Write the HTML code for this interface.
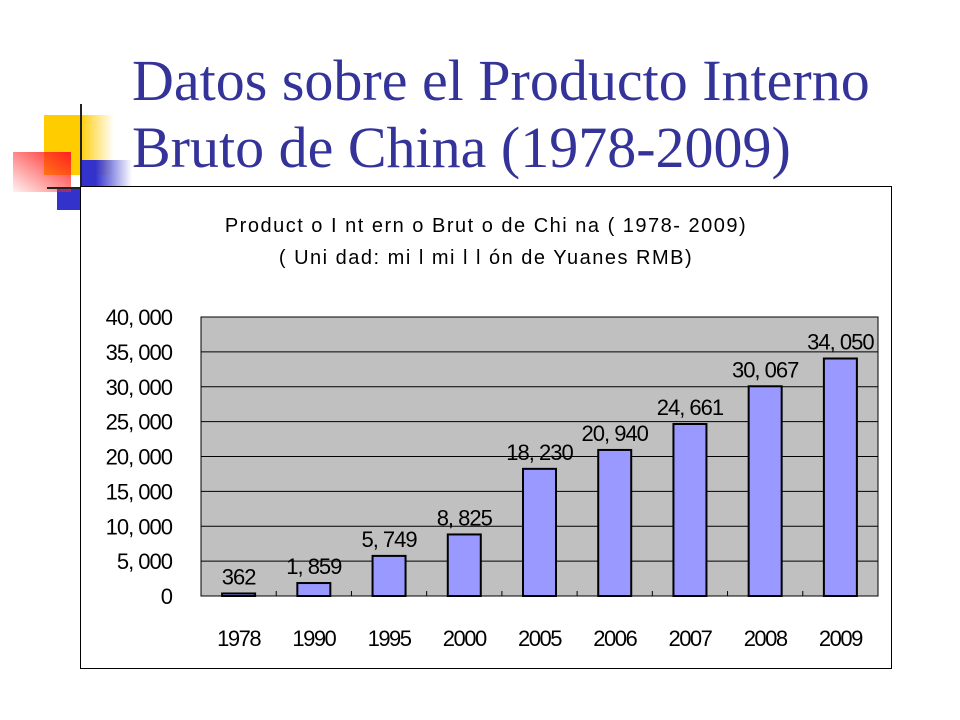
<!DOCTYPE html>
<html><head><meta charset="utf-8"><style>
body{margin:0;width:960px;height:720px;background:#fff;position:relative;overflow:hidden;font-family:"Liberation Sans",sans-serif}
.t{position:absolute;left:132px;top:47px;font-family:"Liberation Serif",serif;font-size:58px;line-height:67px;color:#333399;white-space:nowrap}
</style></head><body>
<div>
<div style="position:absolute;left:44px;top:115px;width:70px;height:60px;background:linear-gradient(to right,#ffcc00 50%,rgba(255,204,0,0))"></div>
<div style="position:absolute;left:80px;top:160px;width:52px;height:28px;background:linear-gradient(to right,#3333cc 30%,rgba(51,51,204,0))"></div>
<div style="position:absolute;left:57px;top:188px;width:24px;height:22px;background:#3333cc"></div>
<div style="position:absolute;left:13px;top:152px;width:58px;height:40px;background:linear-gradient(to bottom left,#ff2020,rgba(255,120,120,0.1))"></div>
<div style="position:absolute;left:80px;top:104px;width:2px;height:92px;background:#222"></div>
<div style="position:absolute;left:47px;top:187px;width:34px;height:2px;background:#222"></div>
</div>
<div class="t">Datos sobre el Producto Interno<br>Bruto de China (1978-2009)</div>
<svg width="960" height="720" style="position:absolute;left:0;top:0" id="c">
<rect x="80.5" y="186.5" width="811" height="482" fill="#fff" stroke="#000"/>
<text x="486" y="232" font-size="20" text-anchor="middle" letter-spacing="1.5">Product o  I nt ern o  Brut o  de  Chi na  ( 1978- 2009)</text>
<text x="486" y="264" font-size="20" text-anchor="middle" letter-spacing="1.5">( Uni dad:  mi l  mi l l ón  de  Yuanes  RMB)</text>
</svg>
<script>
const categories=["1978","1990","1995","2000","2005","2006","2007","2008","2009"];
const values=[362,1859,5749,8825,18230,20940,24661,30067,34050];
const valueLabels=["362","1, 859","5, 749","8, 825","18, 230","20, 940","24, 661","30, 067","34, 050"];
const yTicks=[0,5000,10000,15000,20000,25000,30000,35000,40000];
const yTickLabels=["0","5, 000","10, 000","15, 000","20, 000","25, 000","30, 000","35, 000","40, 000"];
const NS="http://www.w3.org/2000/svg",svg=document.getElementById('c');
const L=201,R=878,T=317,B=596,yMax=40000;
const y=v=>B-(v/yMax)*(B-T);
const bw=(R-L)/categories.length;
const x=i=>L+bw*(i+0.5);
function mk(t,a){const e=document.createElementNS(NS,t);for(const k in a)e.setAttribute(k,a[k]);svg.appendChild(e);return e;}
const pa=mk('rect',{x:L,y:T,width:R-L,height:B-T,fill:'#c0c0c0',stroke:'#000'});


yTicks.forEach((v,i)=>{
 const g=mk('line',{x1:L,x2:R,y1:y(v),y2:y(v),stroke:'#000'});
 
 
 const t=mk('text',{x:172,y:y(v)+8,'font-size':22,'letter-spacing':-1,'text-anchor':'end'});
 t.textContent=yTickLabels[i];
 
 
});
for(let i=1;i<categories.length;i++){
 const k=mk('line',{x1:L+bw*i,x2:L+bw*i,y1:B,y2:B-5,stroke:'#000'});
 
 
}
categories.forEach((c,i)=>{
 const b=mk('rect',{x:x(i)-16.5,y:y(values[i]),width:33,height:B-y(values[i]),fill:'#9999ff',stroke:'#000','stroke-width':2});
 
 
 const v=mk('text',{x:x(i),y:y(values[i])-9,'font-size':22,'letter-spacing':-1,'text-anchor':'middle'});
 v.textContent=valueLabels[i];
 
 
 const t=mk('text',{x:x(i),y:646,'font-size':22,'letter-spacing':-1.5,'text-anchor':'middle'});
 t.textContent=c;
 
 
});
</script>
</body></html>
